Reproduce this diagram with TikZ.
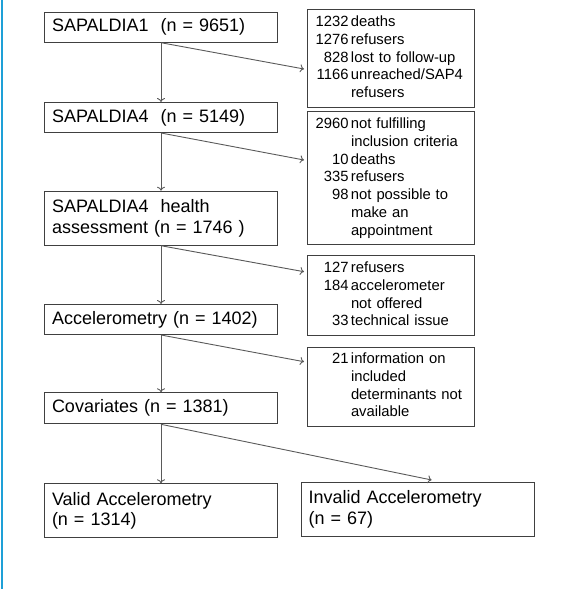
\documentclass[tikz,border=0pt]{standalone}
\usepackage{fontspec}
\setmainfont{Liberation Sans}
\usepackage{array}
\usetikzlibrary{arrows.meta}

\definecolor{boxgray}{RGB}{64,64,64}
\definecolor{arrowgray}{RGB}{90,90,90}
\definecolor{marginblue}{RGB}{30,160,215}

\def\mainBoxLeft{44}
\def\mainBoxWidth{233}
\def\lossBoxLeft{307}
\def\lossBoxWidth{167}
\def\lossTipX{304}

\tikzset{
    mainbox/.style = {
        draw = boxgray, line width = 1pt, anchor = north west,
        inner xsep = 7.5pt, inner ysep = 2pt,
        text width = {\mainBoxWidth pt - 15pt}, align = left,
        font = \fontsize{18}{20.7}\selectfont
    },
    lossbox/.style = {
        draw = boxgray, line width = 1pt, anchor = north west,
        inner xsep = 0pt, inner ysep = 2pt,
        text width = \lossBoxWidth pt, align = left,
        font = \fontsize{14.8}{17.8}\selectfont
    },
    flow/.style = {draw = arrowgray, line width = 0.9pt, -{To[length=4pt, width=8pt]}}
}

\newcommand{\losslist}[1]{%
    \begin{tabular}{@{\hspace{6pt}}>{\raggedleft\arraybackslash}p{35pt}@{\hspace{2.5pt}}l@{}}#1\end{tabular}}

\begin{document}
\begin{tikzpicture}[x = 1pt, y = -1pt]
    \useasboundingbox (0,0) rectangle (563,589);
    %% margin line
    \draw [marginblue, line width = 2pt] (2,0) -- (2,589);

    %% main column
    \node [mainbox, minimum height = 30pt] (sap1) at (\mainBoxLeft,11.7)
        {SAPALDIA1\ \ (n = 9651)};
    \node [mainbox, minimum height = 30pt] (sap4) at (\mainBoxLeft,102)
        {SAPALDIA4\ \ (n = 5149)};
    \node [mainbox, minimum height = 54pt] (health) at (\mainBoxLeft,190.7)
        {SAPALDIA4\ \ health\\assessment (n = 1746\ )};
    \node [mainbox, minimum height = 30pt] (accel) at (\mainBoxLeft,304)
        {Accelerometry (n = 1402)};
    \node [mainbox, minimum height = 31pt] (covar) at (\mainBoxLeft,392.3)
        {Covariates\ (n = 1381)};
    \node [mainbox, minimum height = 54pt] (valid) at (\mainBoxLeft,483.3)
        {Valid Accelerometry\\(n = 1314)};
    \node [mainbox, minimum height = 53.4pt, text width = 218.6pt] (invalid) at (300.7,482.3)
        {Invalid Accelerometry\\(n = 67)};

    %% exclusions
    \node [lossbox, minimum height = 97.4pt] (lossA) at (\lossBoxLeft,9.3) {%
        \losslist{1232 & deaths\\ 1276 & refusers\\ 828 & lost to follow-up\\
        1166 & unreached/SAP4\\ & refusers}};
    \node [lossbox, minimum height = 133pt] (lossB) at (\lossBoxLeft,111.3) {%
        \losslist{2960 & not fulfilling\\ & inclusion criteria\\ 10 & deaths\\
        335 & refusers\\ 98 & not possible to\\ & make an\\ & appointment}};
    \node [lossbox, minimum height = 79.7pt] (lossC) at (\lossBoxLeft,255.3) {%
        \losslist{127 & refusers\\ 184 & accelerometer\\ & not offered\\
        33 & technical issue}};
    \node [lossbox, minimum height = 79pt] (lossD) at (\lossBoxLeft,346.7) {%
        \losslist{21 & information on\\ & included\\ & determinants not\\
        & available}};

    %% arrow ends
    \coordinate (tipA) at (\lossTipX,69);
    \coordinate (tipB) at (\lossTipX,160);
    \coordinate (tipC) at (\lossTipX,271.7);
    \coordinate (tipD) at (\lossTipX,361.7);
    \coordinate (tipInvalid) at (431.7,480);

    %% connectors
    \draw [flow] (sap1.south) -- (sap4.north);
    \draw [flow] (sap4.south) -- (health.north);
    \draw [flow] (health.south) -- (accel.north);
    \draw [flow] (accel.south) -- (covar.north);
    \draw [flow] (covar.south) -- (valid.north);
    \draw [flow] (sap1.south) -- (tipA);
    \draw [flow] (sap4.south) -- (tipB);
    \draw [flow] (health.south) -- (tipC);
    \draw [flow] (accel.south) -- (tipD);
    \draw [flow] (covar.south) -- (tipInvalid);
\end{tikzpicture}
\end{document}
